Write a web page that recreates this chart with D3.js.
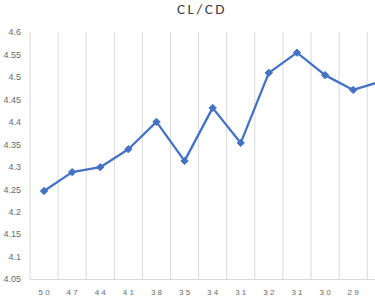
<!DOCTYPE html>
<html>
<head>
<meta charset="utf-8">
<script src="https://cdn.jsdelivr.net/npm/d3@7"></script>
<style>
  body { margin: 0; background: #fff; }
  #chart { width: 375px; height: 302px; overflow: hidden; }
</style>
</head>
<body>
<div id="chart"></div>
<script>
// x categories (last one runs off the right edge)
const categories = ['50', '47', '44', '41', '38', '35', '34', '31', '32', '31', '30', '29', '28'];
const clcd = [4.246, 4.288, 4.299, 4.339, 4.400, 4.313, 4.431, 4.353, 4.509, 4.554, 4.504, 4.471, 4.490];
const yTicks = [4.05, 4.1, 4.15, 4.2, 4.25, 4.3, 4.35, 4.4, 4.45, 4.5, 4.55, 4.6];

const width = 375, height = 302;
const plotLeft = 30, plotTop = 32, plotBottom = 279;
const band = 28.1;

const svg = d3.select('#chart')
  .append('svg')
  .attr('width', width)
  .attr('height', height)
  .style('font-family', 'Calibri, Carlito, "Open Sans", sans-serif');

const xScale = d3.scaleBand()
  .domain(d3.range(categories.length))
  .range([plotLeft, plotLeft + band * categories.length])
  .padding(0);

const yScale = d3.scaleLinear()
  .domain([4.05, 4.6])
  .range([plotBottom, plotTop]);

// title (chart is wider than the window, so its centre sits right of middle)
svg.append('text')
  .attr('x', 202)
  .attr('y', 14)
  .attr('text-anchor', 'middle')
  .style('font-size', '15px')
  .style('letter-spacing', '2.5px')
  .style('fill', '#404040')
  .text('CL/CD');

// vertical gridlines between categories
svg.append('g')
  .selectAll('line')
  .data(d3.range(categories.length + 1))
  .enter()
  .append('line')
  .attr('x1', i => plotLeft + band * i)
  .attr('x2', i => plotLeft + band * i)
  .attr('y1', plotTop)
  .attr('y2', plotBottom)
  .attr('stroke', '#d9d9d9')
  .attr('stroke-width', 1);

// bottom axis line
svg.append('line')
  .attr('x1', plotLeft)
  .attr('x2', width)
  .attr('y1', plotBottom + 0.5)
  .attr('y2', plotBottom + 0.5)
  .attr('stroke', '#d9d9d9');

// y axis labels
const yAxis = d3.axisLeft(yScale)
  .tickValues(yTicks)
  .tickSize(0)
  .tickPadding(9)
  .tickFormat(d => d3.format('~g')(d));

svg.append('g')
  .attr('class', 'y axis')
  .attr('transform', 'translate(' + plotLeft + ',0)')
  .call(yAxis)
  .call(g => g.select('.domain').remove())
  .selectAll('text')
  .style('font-size', '9px')
  .style('fill', '#6a6a6a');

// x axis labels (only the ones that fall inside the window)
const xAxis = d3.axisBottom(xScale)
  .tickValues(d3.range(categories.length - 1))
  .tickSize(0)
  .tickPadding(10)
  .tickFormat(i => categories[i].split('').join(' '));

svg.append('g')
  .attr('class', 'x axis')
  .attr('transform', 'translate(0,' + plotBottom + ')')
  .call(xAxis)
  .call(g => g.select('.domain').remove())
  .selectAll('text')
  .style('font-size', '8px')
  .style('fill', '#6a6a6a');

// line
const line = d3.line()
  .x((d, i) => xScale(i) + band / 2)
  .y(d => yScale(d));

svg.append('path')
  .datum(clcd)
  .attr('fill', 'none')
  .attr('stroke', '#4472c4')
  .attr('stroke-width', 2.3)
  .attr('stroke-linejoin', 'round')
  .attr('d', line);

// markers
svg.append('g')
  .selectAll('path')
  .data(clcd)
  .enter()
  .append('path')
  .attr('transform', (d, i) => 'translate(' + (xScale(i) + band / 2) + ',' + yScale(d) + ')')
  .attr('d', d3.symbol().type(d3.symbolDiamond2).size(34))
  .attr('fill', '#4472c4')
  .attr('stroke', '#4472c4')
  .attr('stroke-width', 1);
</script>
</body>
</html>
